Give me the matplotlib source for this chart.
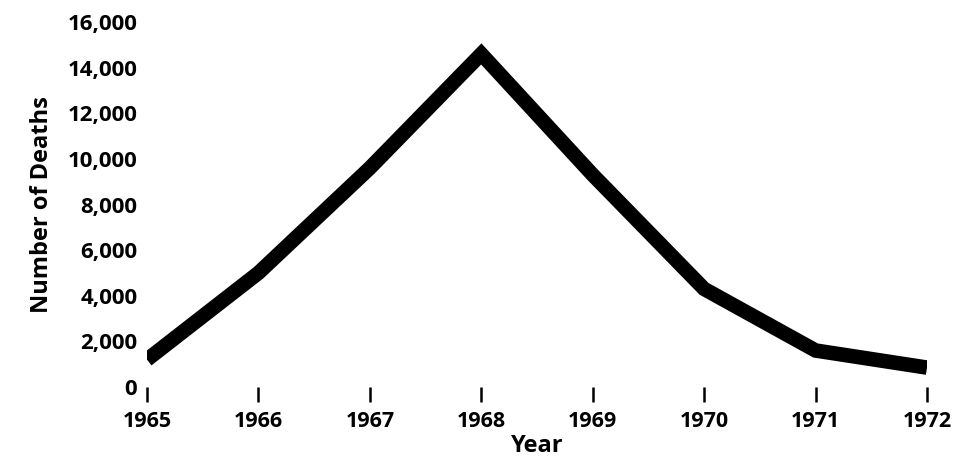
import matplotlib
matplotlib.use("Agg")
from matplotlib import pyplot as plt
from matplotlib.ticker import FuncFormatter

# data
years = [1965, 1966, 1967, 1968, 1969, 1970, 1971, 1972]
deaths = [1200, 5000, 9600, 14600, 9300, 4300, 1600, 850]
y_ticks = [0, 2000, 4000, 6000, 8000, 10000, 12000, 14000, 16000]

plt.rcParams['font.family'] = ['Open Sans', 'DejaVu Sans']

fig = plt.figure(figsize=(9.61, 4.62), dpi=100)
ax = fig.add_axes([147/961, (462-387)/462, (927-147)/961, (387-22)/462])

ax.plot(years, deaths, color='black', linewidth=10.5, solid_capstyle='butt',
        solid_joinstyle='miter')

ax.set_xlim(1965, 1972)
ax.set_ylim(0, 16000)
ax.set_xticks(years)
ax.set_yticks(y_ticks)
ax.yaxis.set_major_formatter(FuncFormatter(lambda v, p: '{:,.0f}'.format(v)))

for s in ax.spines.values():
    s.set_visible(False)

# short outward ticks on x only, no axis lines
ax.tick_params(axis='x', direction='out', length=11, width=1.8, pad=6,
               labelsize=15.5)
ax.tick_params(axis='y', length=0, pad=7, labelsize=16)
for lab in ax.get_xticklabels() + ax.get_yticklabels():
    lab.set_fontweight('bold')

ax.set_xlabel('Year', fontsize=17, fontweight='bold', labelpad=2)
ax.set_ylabel('Number of Deaths', fontsize=17, fontweight='bold', labelpad=10)
ax.patch.set_alpha(0)

fig.savefig('out.png', dpi=100)
